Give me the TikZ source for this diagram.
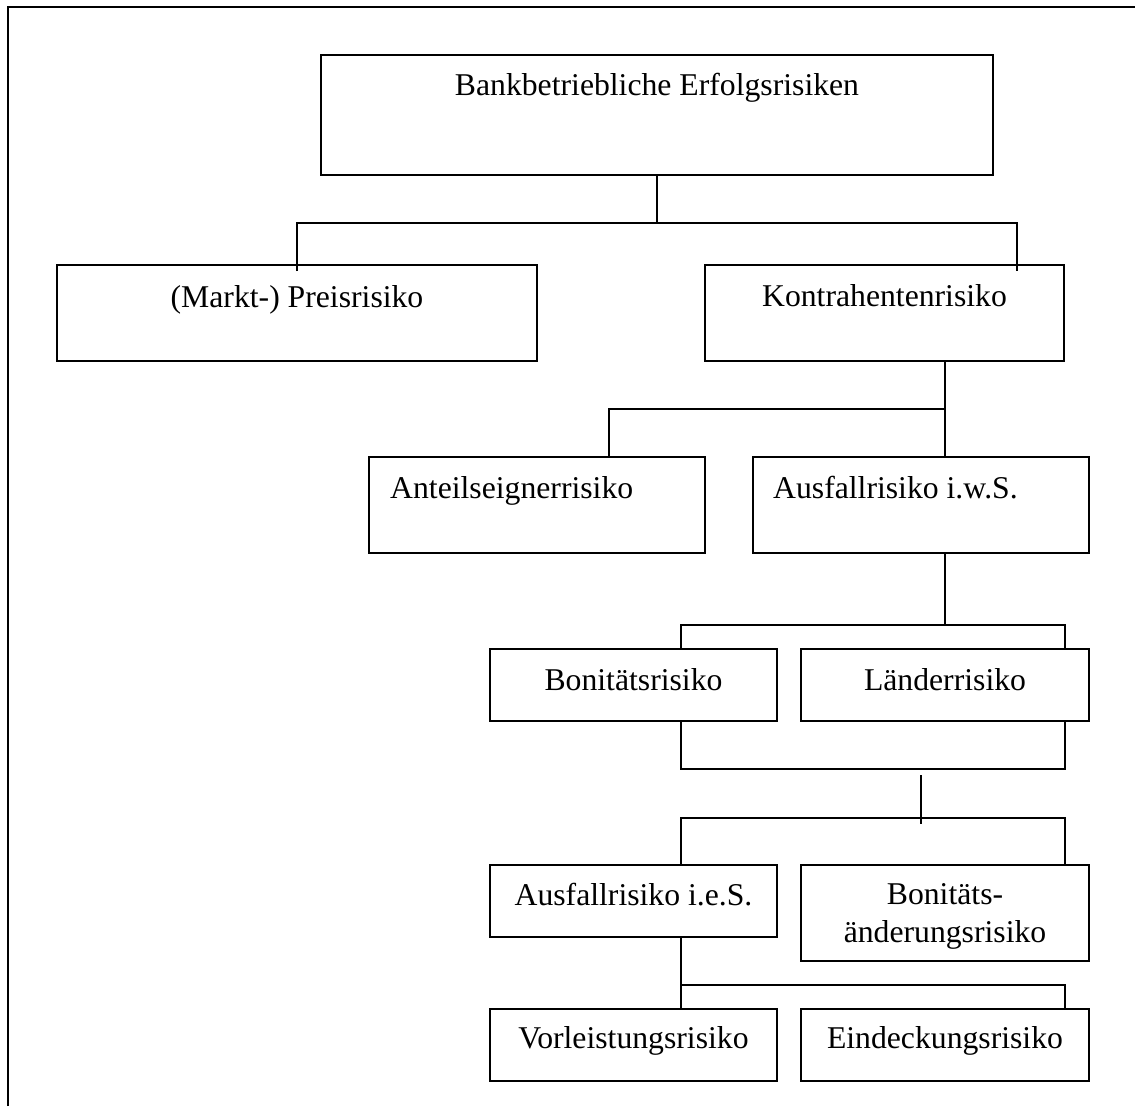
\documentclass[tikz,border=0pt]{standalone}
\usepackage{fontspec}
\setmainfont{Liberation Serif}
\begin{document}
\begin{tikzpicture}[x=1pt,y=-1pt,
  box/.style={draw, line width=1.5pt, rectangle, inner sep=0pt},
  lbl/.style={font=\fontsize{31.7pt}{38pt}\selectfont, inner sep=0pt, anchor=base},
  link/.style={draw, line width=1.5pt},
  joint/.style={draw, line width=2.6pt}]
\useasboundingbox (0,0) rectangle (1135,1106);

% outer frame
\coordinate (f0) at (8,1106);
\coordinate (f1) at (8,7);
\coordinate (f2) at (1135,7);
\draw[line width=1.8pt] (f0) -- (f1) -- (f2);

% boxes
\node[box, minimum width=672pt, minimum height=120pt] (top)     at (657,115)   {};
\node[box, minimum width=480pt, minimum height=96pt]  (preis)   at (297,313)   {};
\node[box, minimum width=359pt, minimum height=96pt]  (kontra)  at (884.5,313) {};
\node[box, minimum width=336pt, minimum height=96pt]  (anteil)  at (537,505)   {};
\node[box, minimum width=336pt, minimum height=96pt]  (ausw)    at (921,505)   {};
\node[box, minimum width=287pt, minimum height=72pt]  (bon)     at (633.5,685) {};
\node[box, minimum width=288pt, minimum height=72pt]  (laender) at (945,685)   {};
\node[box, minimum width=287pt, minimum height=72pt]  (ause)    at (633.5,901) {};
\node[box, minimum width=288pt, minimum height=96pt]  (bonae)   at (945,913)   {};
\node[box, minimum width=287pt, minimum height=72pt]  (vorl)    at (633.5,1045) {};
\node[box, minimum width=288pt, minimum height=72pt]  (eind)    at (945,1045)  {};

% labels
\node[lbl] (t-top)     at (657,95)    {Bankbetriebliche Erfolgsrisiken};
\node[lbl] (t-preis)   at (297,307)   {(Markt-) Preisrisiko};
\node[lbl] (t-kontra)  at (884.5,306) {Kontrahentenrisiko};
\node[lbl, anchor=base west] (t-anteil) at (390,498) {Anteilseignerrisiko};
\node[lbl, anchor=base west] (t-ausw)   at (773,498) {Ausfallrisiko i.w.S.};
\node[lbl] (t-bon)     at (633.5,690) {Bonitätsrisiko};
\node[lbl] (t-laender) at (945,690)   {Länderrisiko};
\node[lbl] (t-ause)    at (633.5,905) {Ausfallrisiko i.e.S.};
\node[lbl] (t-bonae1)  at (945,904)   {Bonitäts-};
\node[lbl] (t-bonae2)  at (945,942)   {änderungsrisiko};
\node[lbl] (t-vorl)    at (633.5,1048) {Vorleistungsrisiko};
\node[lbl] (t-eind)    at (945,1048)  {Eindeckungsrisiko};

% top level split
\coordinate (j1)  at (657,223);
\coordinate (j1a) at (297,223);
\coordinate (j1b) at (1017,223);
\coordinate (e1a) at (297,271);
\coordinate (e1b) at (1017,271);
\draw[link] (top.south) -- (j1);
\draw[link] (e1a) -- (j1a) -- (j1b) -- (e1b);

% Kontrahentenrisiko split
\coordinate (k1) at (945,409);
\coordinate (k2) at (609,409);
\draw[link] (kontra.south -| k1) -- (ausw.north -| k1);
\draw[link] (k1) -- (k2) -- (anteil.north -| k2);

% Ausfallrisiko i.w.S. split
\coordinate (a1) at (945,625);
\coordinate (a2) at (681,625);
\coordinate (a3) at (1065,625);
\draw[link] (ausw.south -| a1) -- (a1);
\draw[link] (bon.north -| a2) -- (a2) -- (a3) -- (laender.north -| a3);

% merge of Bonitaets- and Laenderrisiko
\coordinate (b1) at (681,769);
\coordinate (b2) at (1065,769);
\draw[link] (bon.south -| b1) -- (b1) -- (b2) -- (laender.south -| b2);
\coordinate (s0) at (921,769);
\coordinate (s1) at (945,769);
\draw[joint] (s0) -- (s1);
\coordinate (s2) at (921,775);
\coordinate (s3) at (921,824);
\draw[link] (s2) -- (s3);

% split into Ausfallrisiko i.e.S. and Bonitaetsaenderungsrisiko
\coordinate (c1) at (681,818);
\coordinate (c2) at (1065,818);
\draw[link] (ause.north -| c1) -- (c1) -- (c2) -- (bonae.north -| c2);
\coordinate (s4) at (921,818);
\coordinate (s5) at (945,818);
\draw[joint] (s4) -- (s5);

% Ausfallrisiko i.e.S. split
\coordinate (d1) at (681,985);
\coordinate (d2) at (1065,985);
\draw[link] (ause.south -| d1) -- (vorl.north -| d1);
\draw[link] (d1) -- (d2) -- (eind.north -| d2);
\end{tikzpicture}
\end{document}
